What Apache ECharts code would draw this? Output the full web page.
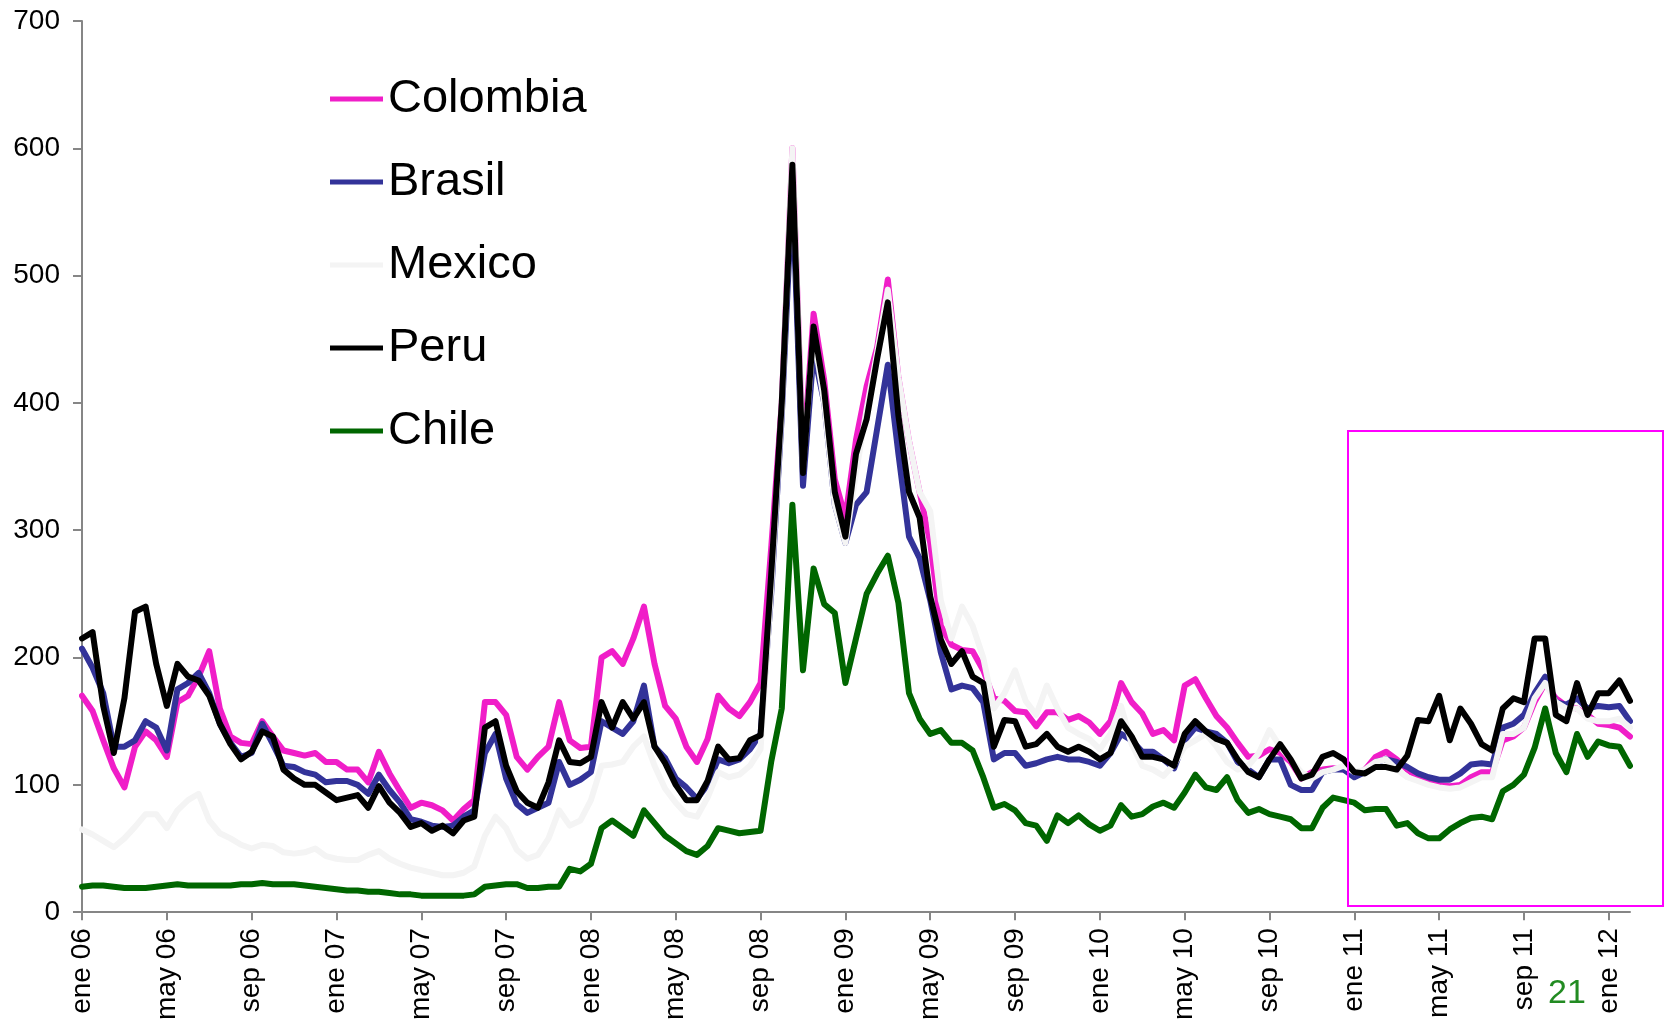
<!DOCTYPE html>
<html>
<head>
<meta charset="utf-8">
<script src="https://cdn.jsdelivr.net/npm/echarts@6/dist/echarts.min.js"></script>
<style>
html,body{margin:0;padding:0;background:#fff;}
#chart{width:1668px;height:1023px;}
</style>
</head>
<body>
<div id="chart"></div>
<script>
// Tick labels every 4 months (Spanish abbreviations)
const tickLabels = ['ene 06','may 06','sep 06','ene 07','may 07','sep 07','ene 08','may 08','sep 08',
  'ene 09','may 09','sep 09','ene 10','may 10','sep 10','ene 11','may 11','sep 11','ene 12'];

// Half-month observation dates, Jan 2006 .. Jan 2012
const categories = [];
for (let i = 0; i < 147; i++) {
  const mIdx = Math.floor(i / 2);
  const yr = 2006 + Math.floor(mIdx / 12);
  const mo = (mIdx % 12) + 1;
  categories.push(yr + '-' + String(mo).padStart(2, '0') + (i % 2 ? '-16' : '-01'));
}

// Spreads (basis points)
const colombia = [
  170,158,135,113,98,130,142,135,
  122,165,170,185,205,160,138,133,
  132,150,138,127,125,123,125,118,
  118,112,112,102,126,109,95,82,
  86,84,80,72,81,88,165,165,
  155,122,112,122,130,165,135,129,
  130,200,205,195,215,240,195,162,
  152,130,118,136,170,160,154,165,
  180,286,400,600,355,470,418,340,
  310,371,413,444,497,420,370,330,
  290,225,210,206,205,190,168,166,
  158,157,146,157,157,151,154,149,
  140,150,180,165,156,140,143,135,
  178,183,168,154,145,133,122,123,
  128,125,118,105,110,112,113,112,
  108,112,122,126,120,112,106,103,
  100,99,100,106,110,110,135,138,
  145,165,180,168,162,160,155,148,
  147,145,138
];
const brasil = [
  207,192,172,130,130,135,150,145,
  127,175,180,188,172,148,133,122,
  125,148,132,115,114,110,108,102,
  103,103,100,93,108,96,86,73,
  71,68,67,68,75,80,125,140,
  105,85,78,82,86,118,100,104,
  110,150,145,140,150,178,130,121,
  105,98,89,100,120,117,120,128,
  140,250,390,570,335,440,400,320,
  290,320,330,380,430,360,295,278,
  245,204,175,178,176,165,120,125,
  125,115,117,120,122,120,120,118,
  115,125,140,135,126,126,120,113,
  135,145,142,140,133,118,112,106,
  120,120,100,96,96,110,112,112,
  106,110,118,120,118,114,109,106,
  104,104,109,116,117,116,145,148,
  155,172,185,165,163,168,160,162,
  161,162,150
];
const mexico = [
  65,61,56,51,58,67,77,77,
  66,80,88,93,72,62,58,53,
  50,53,52,47,46,47,50,44,
  42,41,41,45,48,42,38,35,
  33,31,29,29,31,36,60,75,
  66,49,42,45,58,80,68,72,
  88,115,116,118,130,138,115,97,
  86,77,75,90,110,106,108,115,
  128,255,395,600,350,455,400,320,
  290,345,395,440,489,420,370,330,
  315,245,215,240,225,200,160,172,
  190,166,155,178,160,145,140,136,
  128,140,162,132,115,112,107,116,
  130,135,140,130,118,112,115,125,
  143,130,120,110,105,110,112,115,
  110,112,118,120,112,106,103,100,
  98,97,98,102,106,106,140,140,
  145,168,180,165,160,160,152,150,
  150,152,145
];
const peru = [
  215,220,162,125,168,236,240,195,
  162,195,185,182,170,148,132,120,
  126,142,138,112,105,100,100,94,
  88,90,92,82,99,86,78,67,
  70,64,68,62,72,75,145,150,
  115,95,86,82,102,135,118,117,
  122,165,145,165,152,165,130,117,
  100,88,88,103,130,120,121,135,
  139,265,400,587,345,460,410,330,
  295,360,387,435,479,390,330,310,
  248,214,195,205,185,180,130,151,
  150,130,132,140,130,126,130,126,
  120,125,150,138,122,122,120,115,
  140,150,142,136,133,120,110,106,
  120,132,120,105,108,122,125,120,
  110,109,114,114,112,123,151,150,
  170,135,160,148,132,127,160,168,
  165,215,215,155,150,180,155,172,
  172,182,166
];
const chile = [
  20,21,21,20,19,19,19,20,
  21,22,21,21,21,21,21,22,
  22,23,22,22,22,21,20,19,
  18,17,17,16,16,15,14,14,
  13,13,13,13,13,14,20,21,
  22,22,19,19,20,20,34,32,
  38,66,72,66,60,80,70,60,
  54,48,45,52,66,64,62,63,
  64,118,160,320,190,270,242,235,
  180,215,250,266,280,243,172,152,
  140,143,133,133,127,106,82,85,
  80,70,68,56,76,70,76,69,
  64,68,84,75,77,83,86,82,
  94,108,98,96,106,88,78,81,
  77,75,73,66,66,82,90,88,
  86,80,81,81,68,70,62,58,
  58,65,70,74,75,73,95,100,
  108,129,160,125,110,140,122,134,
  131,130,115
];

const seriesDefs = [
  {name: 'Colombia', data: colombia, color: '#F01EC8'},
  {name: 'Brasil',   data: brasil,   color: '#333399'},
  {name: 'Mexico',   data: mexico,   color: '#F4F4F4'},
  {name: 'Peru',     data: peru,     color: '#000000'},
  {name: 'Chile',    data: chile,    color: '#006600'}
];

const FONT = '"Liberation Sans", Arial, sans-serif';
const chart = echarts.init(document.getElementById('chart'), null, {renderer: 'canvas'});
chart.setOption({
  animation: false,
  backgroundColor: '#ffffff',
  grid: {left: 82, right: 38, top: 21, bottom: 110, containLabel: false},
  legend: {
    orient: 'vertical',
    left: 325, top: 69,
    icon: 'rect',
    itemWidth: 53, itemHeight: 5,
    itemGap: 33,
    textStyle: {fontFamily: FONT, fontSize: 47, color: '#000', lineHeight: 50},
    data: seriesDefs.map(s => s.name)
  },
  xAxis: {
    type: 'category',
    data: categories,
    boundaryGap: false,
    axisLine: {lineStyle: {color: '#868686', width: 2}},
    axisTick: {show: true, interval: 7, length: 8, lineStyle: {color: '#868686', width: 2}},
    axisLabel: {
      interval: 7, rotate: 90, margin: 16,
      fontFamily: FONT, fontSize: 28, color: '#000',
      formatter: function (v, idx) { return tickLabels[Math.round(idx / 8)] || ''; }
    },
    splitLine: {show: false}
  },
  yAxis: {
    type: 'value', min: 0, max: 700, interval: 100,
    axisLine: {show: true, lineStyle: {color: '#868686', width: 2}},
    axisTick: {show: true, length: 9, lineStyle: {color: '#868686', width: 2}},
    axisLabel: {fontFamily: FONT, fontSize: 28, color: '#000', margin: 22},
    splitLine: {show: false}
  },
  series: seriesDefs.map(s => ({
    name: s.name, type: 'line', data: s.data,
    showSymbol: false, symbol: 'none', smooth: false,
    lineStyle: {color: s.color, width: 6, join: 'round', cap: 'round'},
    itemStyle: {color: s.color}
  })),
  graphic: [
    {type: 'rect', shape: {x: 1348, y: 431, width: 315, height: 475},
     style: {fill: 'none', stroke: '#FF00FF', lineWidth: 2}, z: 100},
    {type: 'text', left: 1548, top: 977,
     style: {text: '21', fontFamily: FONT, fontSize: 34, fill: '#228B22'}, z: 100}
  ]
});
</script>
</body>
</html>
